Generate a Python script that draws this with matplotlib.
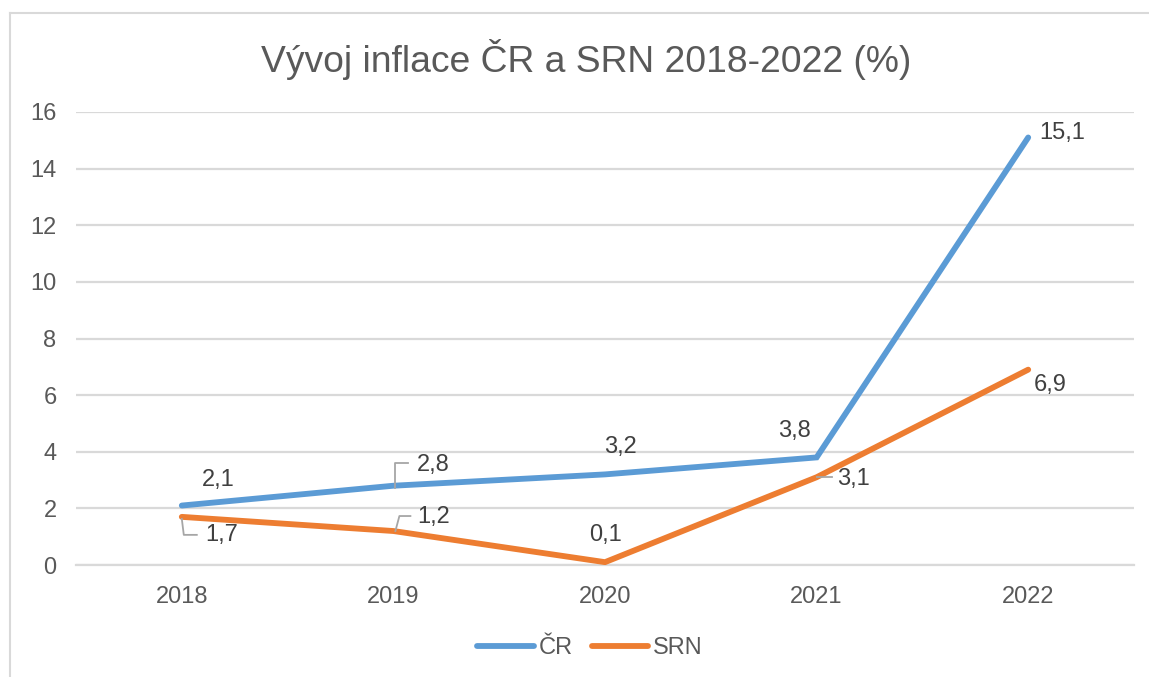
import matplotlib
matplotlib.use('Agg')
import matplotlib.pyplot as plt
from matplotlib.lines import Line2D

plt.rcParams['font.family'] = ['Liberation Sans', 'DejaVu Sans']

# data
years = ['2018', '2019', '2020', '2021', '2022']
cr = [2.1, 2.8, 3.2, 3.8, 15.1]
srn = [1.7, 1.2, 0.1, 3.1, 6.9]
cr_labels = ['2,1', '2,8', '3,2', '3,8', '15,1']
srn_labels = ['1,7', '1,2', '0,1', '3,1', '6,9']

blue = '#5B9BD5'
orange = '#ED7D31'
txt = '#404040'

fig = plt.figure(figsize=(11.49, 6.77), dpi=100)
ax = fig.add_axes([76 / 1149, 1 - 565 / 677, (1134 - 76) / 1149, (565 - 112) / 677])

x = list(range(len(years)))
ax.plot(x, cr, color=blue, lw=4.2, solid_capstyle='round', solid_joinstyle='miter', zorder=3)
ax.plot(x, srn, color=orange, lw=4.2, solid_capstyle='round', solid_joinstyle='miter', zorder=3)

ax.set_xlim(-0.5, 4.5)
ax.set_ylim(0, 16)
ax.set_yticks(range(0, 17, 2))
ax.set_xticks(x)
ax.set_xticklabels(years)
ax.tick_params(axis='both', length=0, labelsize=17, colors='#595959')
ax.tick_params(axis='y', pad=14)
ax.tick_params(axis='x', pad=15)
ax.grid(axis='y', color='#D9D9D9', lw=1.6)
ax.set_axisbelow(True)
for s in ['top', 'right', 'left']:
    ax.spines[s].set_visible(False)
ax.spines['bottom'].set_color('#D9D9D9')
ax.spines['bottom'].set_linewidth(1.6)

# label offsets in pixels (dx, dy), leader polylines in pixels from the point
cr_off = [(36, 26), (40, 21), (15, 27), (-22, 26), (34, 4)]
srn_off = [(40, -18), (40, 14), (0, 27), (37, -2), (22, -15)]
cr_lead = [None, [(2, -2), (2, 23), (15, 23)], None, None, None]
srn_lead = [[(0, -2), (2, -18), (15, -18)], [(2, 0), (6, 15), (17, 15)], None,
            [(0, 0), (15, 0)], None]


def label(vals, labs, offs, leads):
    for i, (v, l, o) in enumerate(zip(vals, labs, offs)):
        ax.annotate(l, (i, v), xytext=o, textcoords='offset pixels',
                    ha='center', va='center', fontsize=17, color=txt, zorder=5)
        if leads[i]:
            pts = [ax.transData.transform((i, v)) + d for d in leads[i]]
            ax.add_line(Line2D([p[0] for p in pts], [p[1] for p in pts],
                               transform=None, color='#A6A6A6', lw=1.3, zorder=4))


label(cr, cr_labels, cr_off, cr_lead)
label(srn, srn_labels, srn_off, srn_lead)

fig.text(586 / 1149, 1 - 60 / 677, 'Vývoj inflace ČR a SRN 2018-2022 (%)',
         ha='center', va='center', fontsize=26.8, color='#595959')

handles = [Line2D([], [], color=blue, lw=4.2, solid_capstyle='round'),
           Line2D([], [], color=orange, lw=4.2, solid_capstyle='round')]
fig.legend(handles, ['ČR', 'SRN'], loc='center', bbox_to_anchor=(590 / 1149, 1 - 648 / 677),
           ncol=2, frameon=False, fontsize=17, handlelength=2.4, handletextpad=0.2,
           columnspacing=0.8, labelcolor='#595959')

# chart frame
fig.add_artist(Line2D([10 / 1149, 10 / 1149], [0, 1 - 13 / 677], transform=fig.transFigure,
                      color='#D9D9D9', lw=1.5))
fig.add_artist(Line2D([10 / 1149, 1], [1 - 13 / 677, 1 - 13 / 677], transform=fig.transFigure,
                      color='#D9D9D9', lw=1.5))

fig.savefig('out.png', dpi=100)
